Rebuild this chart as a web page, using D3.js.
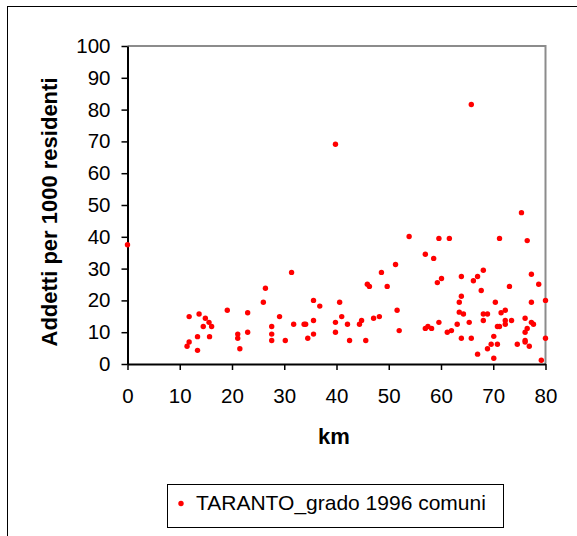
<!DOCTYPE html>
<html><head><meta charset="utf-8">
<script src="https://cdnjs.cloudflare.com/ajax/libs/d3/7.8.5/d3.min.js"></script>
<style>body{margin:0;background:#fff}svg{display:block}</style>
</head><body>
<script>
const xTicks = [0,10,20,30,40,50,60,70,80];
const yTicks = [0,10,20,30,40,50,60,70,80,90,100];
const seriesName = "TARANTO_grado 1996 comuni";
const xLabel = "km";
const yLabel = "Addetti per 1000 residenti";
const km = [0,11.4,11.8,11.8,13.4,13.4,13.7,14.5,14.9,15.6,15.7,16.1,19.1,21.1,21.1,21.5,23.0,23.0,26.0,26.4,27.6,27.6,27.6,29.1,30.2,31.4,31.8,33.8,34.1,34.5,35.6,35.6,35.6,36.8,39.8,39.8,39.8,40.6,41.0,42.1,42.5,44.4,44.8,45.6,45.9,46.3,47.1,48.2,48.6,49.7,51.3,51.6,52.0,53.9,57.0,57.0,57.5,58.2,58.6,59.3,59.6,59.6,60.1,61.2,61.6,62.0,63.1,63.5,63.5,63.9,63.9,63.9,64.3,65.4,65.8,65.8,66.2,67.0,67.0,67.7,68.1,68.1,68.1,68.9,68.9,69.6,70.1,70.1,70.4,70.8,70.8,71.2,71.2,71.5,72.3,72.3,72.3,73.1,73.5,74.6,75.4,76.1,76.1,76.1,76.1,76.5,76.5,76.9,77.3,77.3,77.3,77.7,78.7,79.2,80,80];
const addetti = [37.5,5.6,6.9,14.9,4.3,8.6,15.7,11.8,14.4,13.1,8.6,11.8,16.9,9.4,8.1,4.8,16.1,10.0,19.4,23.8,11.8,9.4,7.4,14.9,7.4,28.8,12.5,12.5,12.5,8.1,20.0,13.7,9.4,18.2,69.1,13.1,10.0,19.4,14.9,12.5,7.4,12.5,13.7,7.4,25.1,24.4,14.4,14.9,28.8,24.4,31.3,16.9,10.5,40.1,34.5,11.2,11.8,11.2,33.2,25.6,39.5,13.1,26.9,10.0,39.5,10.5,12.5,19.4,16.3,27.5,21.3,8.1,15.7,13.1,81.6,8.1,26.2,27.5,3.1,23.1,29.5,15.7,13.7,15.7,4.8,6.2,8.7,1.8,19.4,11.8,6.2,39.5,11.8,16.1,16.9,13.7,12.5,24.4,13.7,6.2,47.6,14.4,10.0,7.4,6.9,11.2,38.8,5.6,28.2,19.4,13.1,12.5,25.1,1.2,20.0,8.1];

const W = 577, H = 536;
const svg = d3.select("body").append("svg").attr("width", W).attr("height", H);
const font = "Arial, 'Liberation Sans', sans-serif";

svg.append("rect").attr("x",7.5).attr("y",6.5).attr("width",W).attr("height",H)
  .attr("fill","none").attr("stroke","#000").attr("stroke-width",1);

const x = d3.scaleLinear().domain([0,80]).range([127.5,545.5]);
const y = d3.scaleLinear().domain([0,100]).range([364,46]);

// plot frame (gray top/right)
svg.append("path").attr("d",`M${x(0)},${y(100)}H${x(80)}V${y(0)}`)
  .attr("fill","none").attr("stroke","#8c8c8c").attr("stroke-width",2);

const gy = svg.append("g").attr("transform",`translate(${x(0)},0)`)
  .call(d3.axisLeft(y).tickValues(yTicks).tickSize(6).tickPadding(11).tickSizeOuter(0));
const gx = svg.append("g").attr("transform",`translate(0,${y(0)})`)
  .call(d3.axisBottom(x).tickValues(xTicks).tickSize(6).tickPadding(18).tickSizeOuter(0));
[gx,gy].forEach(g=>{
  g.select(".domain").attr("stroke","#000").attr("stroke-width",2);
  g.selectAll(".tick line").attr("stroke","#000").attr("stroke-width",1.5);
  g.selectAll("text").attr("font-family",font).attr("font-size",20.5).attr("fill","#000");
});

svg.append("g").selectAll("circle").data(km.map((k,i)=>[k,addetti[i]])).join("circle")
  .attr("cx",d=>x(d[0])).attr("cy",d=>y(d[1])).attr("r",2.7).attr("fill","#ff0000");

svg.append("text").attr("x",334).attr("y",444).attr("text-anchor","middle")
  .attr("font-family",font).attr("font-weight","bold").attr("font-size",22).text(xLabel);
svg.append("text").attr("transform","translate(56.5,212) rotate(-90)").attr("text-anchor","middle")
  .attr("font-family",font).attr("font-weight","bold").attr("font-size",22).text(yLabel);

// legend
svg.append("rect").attr("x",167.5).attr("y",484.5).attr("width",336).attr("height",43)
  .attr("fill","#fff").attr("stroke","#000").attr("stroke-width",1);
svg.append("circle").attr("cx",181).attr("cy",503.5).attr("r",2.7).attr("fill","#ff0000");
svg.append("text").attr("x",196).attr("y",509.5).attr("font-family",font).attr("font-size",21)
  .attr("fill","#000").text(seriesName);
</script>
</body></html>
